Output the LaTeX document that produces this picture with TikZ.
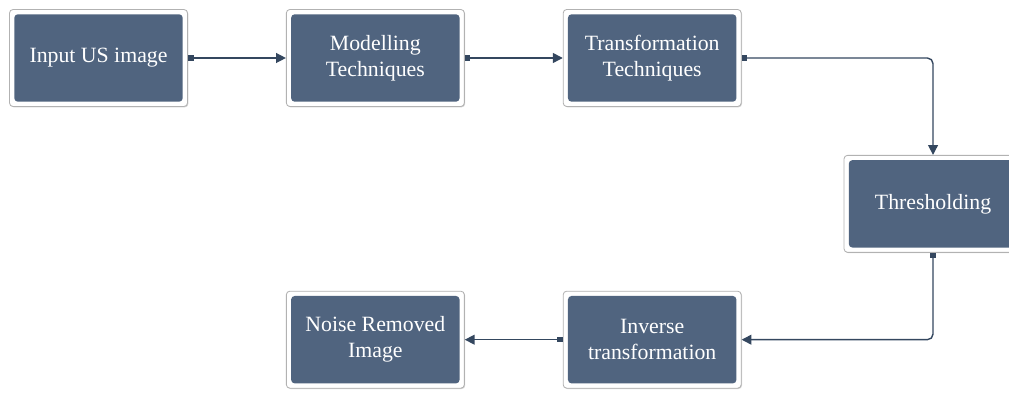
\documentclass[tikz,border=0pt]{standalone}
\usepackage{fontspec}
\setmainfont{LiberationSerif}[Extension=.ttf, UprightFont=*-Regular]
\usetikzlibrary{arrows.meta, positioning, shadows}

\definecolor{stagefill}{HTML}{50647F}
\definecolor{linkcol}{HTML}{34475F}

\begin{document}
\begin{tikzpicture}[node distance=2.45cm, every node/.style={draw=gray!60,
						fill=white, rounded corners=2.5pt, line width=0.6pt,
						minimum width=4.45cm, minimum height=2.425cm,
						align=center, text=white,
						font=\fontsize{15.5}{18.5}\selectfont,
						drop shadow={shadow xshift=0.6pt, shadow yshift=-0.6pt, opacity=0.35},
						path picture={\fill[stagefill]
							([shift={(0.12cm,0.12cm)}]path picture bounding box.south west)
							rectangle ([shift={(-0.12cm,-0.12cm)}]path picture bounding box.north east);}},
						link/.style={draw=linkcol, line width=1pt, rounded corners=4pt,
						{Square[length=4pt,width=4pt]}-{Triangle[length=7pt,width=7pt]}}]

			\useasboundingbox (0,0) rectangle (25.225,-9.825);

			% Top row
			\node (input) at (2.4625,-1.45) {Input US image};
			\node (model) [right=of input] {Modelling\\Techniques};
			\node (trans) [right=of model] {Transformation\\Techniques};

			% Right hand side
			\node (thresh) [below right=1.2cm and 2.55cm of trans] {Thresholding};

			% Bottom row
			\node (inverse) [below left=0.95cm and 2.55cm of thresh] {Inverse\\transformation};
			\node (denoised) [left=of inverse] {Noise Removed\\Image};

			% Connectors
			\draw[link] (input) -- (model);
			\draw[link] (model) -- (trans);
			\draw[link] (trans.east) -| (thresh.north);
			\draw[link] (thresh.south) |- (inverse.east);
			\draw[link] (inverse) -- (denoised);

		\end{tikzpicture}
\end{document}
